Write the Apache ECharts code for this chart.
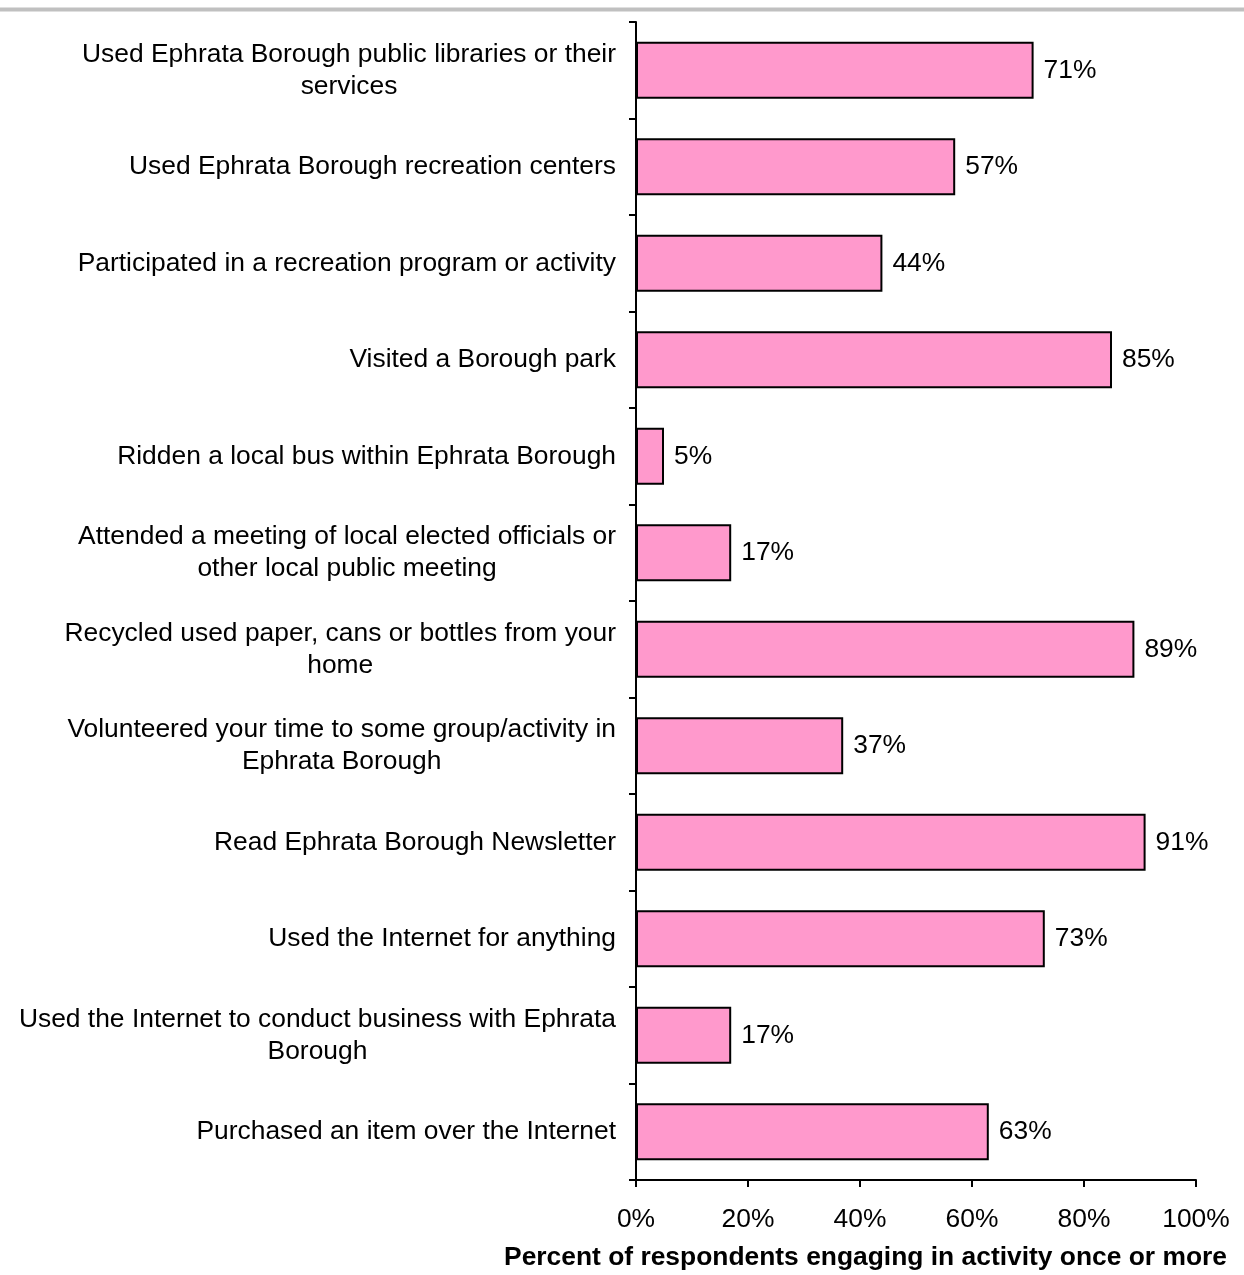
<!DOCTYPE html>
<html>
<head>
<meta charset="utf-8">
<script src="https://cdn.jsdelivr.net/npm/echarts@6/dist/echarts.min.js"></script>
<style>html,body{margin:0;padding:0;background:#fff;}#c{width:1244px;height:1275px;}</style>
</head>
<body>
<div id="c"></div>
<script>
const categories = [
  "Used Ephrata Borough public libraries or their\nservices",
  "Used Ephrata Borough recreation centers",
  "Participated in a recreation program or activity",
  "Visited a Borough park",
  "Ridden a local bus within Ephrata Borough",
  "Attended a meeting of local elected officials or\nother local public meeting",
  "Recycled used paper, cans or bottles from your\nhome",
  "Volunteered your time to some group/activity in\nEphrata Borough",
  "Read Ephrata Borough Newsletter",
  "Used the Internet for anything",
  "Used the Internet to conduct business with Ephrata\nBorough",
  "Purchased an item over the Internet"
];
const values = [71, 57, 44, 85, 5, 17, 89, 37, 91, 73, 17, 63];
const xTicks = [0, 20, 40, 60, 80, 100];
const axisTitle = "Percent of respondents engaging in activity once or more";

const FONT = "Liberation Sans, Arial, sans-serif";
const FS = 26.4;
const chart = echarts.init(document.getElementById('c'), null, {renderer: 'canvas'});
chart.setOption({
  animation: false,
  backgroundColor: '#fff',
  title: {
    text: axisTitle,
    right: 12,
    top: 1240,
    textStyle: {fontFamily: FONT, fontSize: FS, fontWeight: 'bold', color: '#000'}
  },
  graphic: [{
    type: 'line',
    shape: {x1: 0, y1: 9.5, x2: 1244, y2: 9.5},
    style: {stroke: '#c0c0c0', lineWidth: 4}
  }],
  grid: {left: 636, right: 48, top: 22, bottom: 95, containLabel: false},
  xAxis: {
    type: 'value',
    min: xTicks[0],
    max: xTicks[xTicks.length - 1],
    interval: 20,
    splitLine: {show: false},
    axisLine: {show: true, lineStyle: {color: '#000', width: 2}},
    axisTick: {show: true, length: 7, lineStyle: {color: '#000', width: 2}},
    axisLabel: {
      formatter: v => v + '%',
      fontFamily: FONT, fontSize: FS, color: '#000', margin: 27
    }
  },
  yAxis: {
    type: 'category',
    inverse: true,
    data: categories,
    axisLine: {show: true, lineStyle: {color: '#000', width: 2}},
    axisTick: {show: true, length: 7, lineStyle: {color: '#000', width: 2}},
    axisLabel: {
      margin: 20,
      align: 'right',
      fontFamily: FONT, fontSize: FS, color: '#000', lineHeight: 32,
      formatter: v => v.split('\n').map(s => '{c|' + s + '}').join('\n'),
      rich: {c: {align: 'center', fontFamily: FONT, fontSize: FS, color: '#000', lineHeight: 32}}
    }
  },
  series: [{
    type: 'bar',
    data: values,
    barCategoryGap: '41%',
    itemStyle: {color: '#FF99CC', borderColor: '#000', borderWidth: 2},
    label: {
      show: true, position: 'right', distance: 10,
      formatter: p => p.value + '%',
      fontFamily: FONT, fontSize: FS, color: '#000'
    }
  }]
});
</script>
</body>
</html>
